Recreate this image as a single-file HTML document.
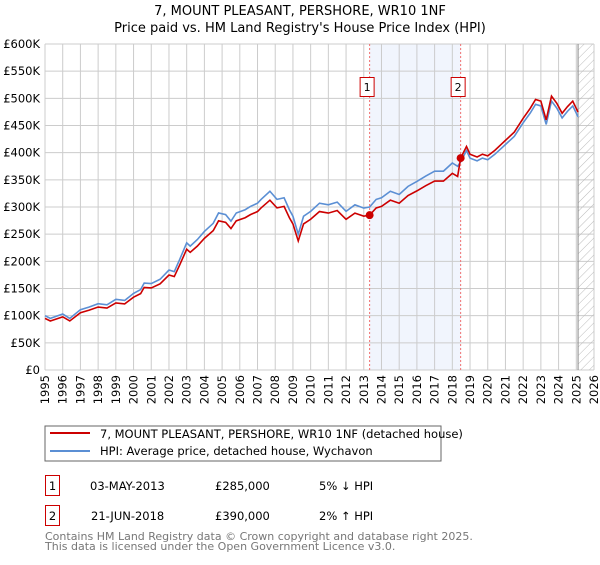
<!DOCTYPE html>
<html><head><meta charset="utf-8"><style>
body{margin:0;background:#fff;font-family:"Liberation Sans","DejaVu Sans",sans-serif}
</style></head><body>
<svg width="600" height="560" xmlns="http://www.w3.org/2000/svg" font-family="DejaVu Sans, Liberation Sans, sans-serif">
<text x="300" y="15" text-anchor="middle" font-size="13">7, MOUNT PLEASANT, PERSHORE, WR10 1NF</text>
<text x="300" y="32" text-anchor="middle" font-size="13">Price paid vs. HM Land Registry's House Price Index (HPI)</text>
<g id="plot"></g>
<rect x="45" y="426" width="396" height="35" fill="#fff" stroke="#666"/>
<line x1="50" y1="433" x2="90" y2="433" stroke="#cc0000" stroke-width="2"/>
<text x="100" y="438" font-size="11.5">7, MOUNT PLEASANT, PERSHORE, WR10 1NF (detached house)</text>
<line x1="50" y1="451" x2="90" y2="451" stroke="#5b8fd4" stroke-width="2"/>
<text x="100" y="455" font-size="11.5">HPI: Average price, detached house, Wychavon</text>
<g font-size="11.5">
<rect x="45.5" y="475.5" width="14" height="20" fill="none" stroke="#cc0000"/>
<text x="52.5" y="490" text-anchor="middle">1</text>
<text x="90" y="490">03-MAY-2013</text>
<text x="215" y="490">£285,000</text>
<text x="319" y="490">5% ↓ HPI</text>
<rect x="45.5" y="505.5" width="14" height="20" fill="none" stroke="#cc0000"/>
<text x="52.5" y="520" text-anchor="middle">2</text>
<text x="91" y="520">21-JUN-2018</text>
<text x="215" y="520">£390,000</text>
<text x="319" y="520">2% ↑ HPI</text>
</g>
<text x="45" y="540" font-size="11" fill="#777">Contains HM Land Registry data © Crown copyright and database right 2025.</text>
<text x="45" y="550" font-size="11" fill="#777">This data is licensed under the Open Government Licence v3.0.</text>
</svg>
<script>
const hpiYears=[1995,1995.3,1996,1996.4,1997,1997.5,1998,1998.5,1999,1999.5,2000,2000.4,2000.6,2001,2001.5,2002,2002.3,2002.6,2003,2003.2,2003.6,2004,2004.5,2004.8,2005.2,2005.5,2005.8,2006.3,2006.6,2007,2007.2,2007.7,2008.1,2008.5,2008.8,2009,2009.3,2009.6,2010,2010.5,2011,2011.5,2012,2012.5,2013,2013.33,2013.7,2014,2014.5,2015,2015.5,2016,2016.5,2017,2017.5,2018,2018.3,2018.47,2018.8,2019,2019.4,2019.7,2020,2020.4,2020.8,2021,2021.5,2022,2022.4,2022.7,2023,2023.3,2023.6,2023.9,2024.2,2024.5,2024.8,2025.1];
const hpiValues=[100,95,103,95,111,116,122,120,130,128,141,148,160,159,167,184,181,203,234,228,240,255,270,289,286,274,289,295,301,307,314,329,314,317,295,283,250,283,292,307,304,309,292,304,298,300,314,317,329,323,338,347,357,366,366,381,375,383,404,390,385,390,387,397,409,415,430,455,473,489,486,452,495,482,464,476,486,466];
const saleYears=[2013.33,2018.47];
const salePrices=[285,390];
const yTicks=[0,50,100,150,200,250,300,350,400,450,500,550,600];
const xTicks=[1995,1996,1997,1998,1999,2000,2001,2002,2003,2004,2005,2006,2007,2008,2009,2010,2011,2012,2013,2014,2015,2016,2017,2018,2019,2020,2021,2022,2023,2024,2025,2026];
const X0=45,X1=594,Y0=370,Y1=44;
const xs=y=>X0+(y-1995)/(2026-1995)*(X1-X0);
const ys=v=>Y0-v/600*(Y0-Y1);
const NS="http://www.w3.org/2000/svg";
const g=document.getElementById('plot');
function mk(t,a){const e=document.createElementNS(NS,t);for(const k in a)e.setAttribute(k,a[k]);g.appendChild(e);return e;}
let e;
e=mk('rect',{x:xs(saleYears[0]),y:Y1,width:xs(saleYears[1])-xs(saleYears[0]),height:Y0-Y1,fill:'#eef3fc',opacity:0.8});


xTicks.forEach(t=>{
 e=mk('line',{x1:xs(t),x2:xs(t),y1:Y1,y2:Y0,stroke:'#ccc'});
 
 
 e=mk('text',{transform:`translate(${xs(t)+4},375) rotate(-90)`,'text-anchor':'end','font-size':11.5});
 e.textContent=t;
 
 
});
yTicks.forEach(t=>{
 e=mk('line',{x1:X0,x2:X1,y1:ys(t),y2:ys(t),stroke:'#ccc'});
 
 
 e=mk('text',{x:40,y:ys(t)+4,'text-anchor':'end','font-size':11.5});
 e.textContent=t===0?'£0':'£'+t+'K';
 
 
});
const defs=mk('defs',{});
defs.innerHTML='<pattern id="hatch" width="6" height="6" patternUnits="userSpaceOnUse" patternTransform="rotate(45)"><line x1="0" y1="0" x2="0" y2="6" stroke="#bbb" stroke-width="1"/></pattern>';
const hx=xs(2025.1);
e=mk('rect',{x:hx,y:Y1,width:X1-hx,height:Y0-Y1,fill:'url(#hatch)'});


e=mk('line',{x1:hx,x2:hx,y1:Y1,y2:Y0,stroke:'#888','stroke-width':1});


function hpiAt(y){for(let i=1;i<hpiYears.length;i++){if(y<=hpiYears[i]){const f=(y-hpiYears[i-1])/(hpiYears[i]-hpiYears[i-1]);return hpiValues[i-1]+f*(hpiValues[i]-hpiValues[i-1]);}}return hpiValues[hpiValues.length-1];}
const bluePts=hpiYears.map((y,i)=>xs(y)+','+ys(hpiValues[i])).join(' ');
const r1=salePrices[0]/hpiAt(saleYears[0]),r2=salePrices[1]/hpiAt(saleYears[1]);
const redPts=hpiYears.map((y,i)=>{const r=y<saleYears[1]?r1:r2;return xs(y)+','+ys(hpiValues[i]*r);});
e=mk('polyline',{points:bluePts,fill:'none',stroke:'#5b8fd4','stroke-width':1.6});


e=mk('polyline',{points:redPts.join(' '),fill:'none',stroke:'#cc0000','stroke-width':1.6});


saleYears.forEach((y,i)=>{
 e=mk('line',{x1:xs(y),x2:xs(y),y1:Y1,y2:Y0,stroke:'#f07070','stroke-dasharray':'2,2'});
 
 
 e=mk('circle',{cx:xs(y),cy:ys(salePrices[i]),r:4,fill:'#cc0000'});
 
 
 e=mk('rect',{x:xs(y)-9.5,y:77.5,width:14,height:19,fill:'#fff',stroke:'#cc0000'});
 
 
 e=mk('text',{x:xs(y)-2.5,y:91,'text-anchor':'middle','font-size':11});
 e.textContent=String(i+1);
 
 
});
</script>
</body></html>
